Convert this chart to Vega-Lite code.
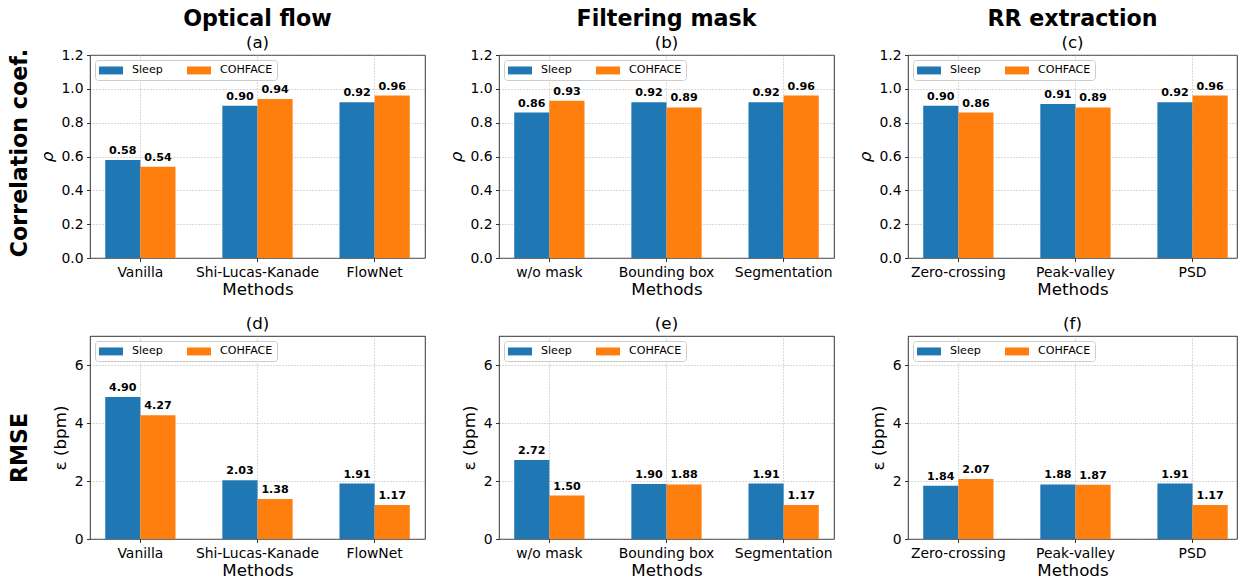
{
  "$schema": "https://vega.github.io/schema/vega-lite/v6.json",
  "padding": {"left": 9, "top": 7, "right": 0, "bottom": 0},
  "background": "white",
  "datasets": {
    "d": [
      {"panel": "a", "method": "Vanilla", "dataset": "Sleep", "value": 0.58},
      {"panel": "a", "method": "Vanilla", "dataset": "COHFACE", "value": 0.54},
      {"panel": "a", "method": "Shi-Lucas-Kanade", "dataset": "Sleep", "value": 0.90},
      {"panel": "a", "method": "Shi-Lucas-Kanade", "dataset": "COHFACE", "value": 0.94},
      {"panel": "a", "method": "FlowNet", "dataset": "Sleep", "value": 0.92},
      {"panel": "a", "method": "FlowNet", "dataset": "COHFACE", "value": 0.96},
      {"panel": "b", "method": "w/o mask", "dataset": "Sleep", "value": 0.86},
      {"panel": "b", "method": "w/o mask", "dataset": "COHFACE", "value": 0.93},
      {"panel": "b", "method": "Bounding box", "dataset": "Sleep", "value": 0.92},
      {"panel": "b", "method": "Bounding box", "dataset": "COHFACE", "value": 0.89},
      {"panel": "b", "method": "Segmentation", "dataset": "Sleep", "value": 0.92},
      {"panel": "b", "method": "Segmentation", "dataset": "COHFACE", "value": 0.96},
      {"panel": "c", "method": "Zero-crossing", "dataset": "Sleep", "value": 0.90},
      {"panel": "c", "method": "Zero-crossing", "dataset": "COHFACE", "value": 0.86},
      {"panel": "c", "method": "Peak-valley", "dataset": "Sleep", "value": 0.91},
      {"panel": "c", "method": "Peak-valley", "dataset": "COHFACE", "value": 0.89},
      {"panel": "c", "method": "PSD", "dataset": "Sleep", "value": 0.92},
      {"panel": "c", "method": "PSD", "dataset": "COHFACE", "value": 0.96},
      {"panel": "d", "method": "Vanilla", "dataset": "Sleep", "value": 4.90},
      {"panel": "d", "method": "Vanilla", "dataset": "COHFACE", "value": 4.27},
      {"panel": "d", "method": "Shi-Lucas-Kanade", "dataset": "Sleep", "value": 2.03},
      {"panel": "d", "method": "Shi-Lucas-Kanade", "dataset": "COHFACE", "value": 1.38},
      {"panel": "d", "method": "FlowNet", "dataset": "Sleep", "value": 1.91},
      {"panel": "d", "method": "FlowNet", "dataset": "COHFACE", "value": 1.17},
      {"panel": "e", "method": "w/o mask", "dataset": "Sleep", "value": 2.72},
      {"panel": "e", "method": "w/o mask", "dataset": "COHFACE", "value": 1.50},
      {"panel": "e", "method": "Bounding box", "dataset": "Sleep", "value": 1.90},
      {"panel": "e", "method": "Bounding box", "dataset": "COHFACE", "value": 1.88},
      {"panel": "e", "method": "Segmentation", "dataset": "Sleep", "value": 1.91},
      {"panel": "e", "method": "Segmentation", "dataset": "COHFACE", "value": 1.17},
      {"panel": "f", "method": "Zero-crossing", "dataset": "Sleep", "value": 1.84},
      {"panel": "f", "method": "Zero-crossing", "dataset": "COHFACE", "value": 2.07},
      {"panel": "f", "method": "Peak-valley", "dataset": "Sleep", "value": 1.88},
      {"panel": "f", "method": "Peak-valley", "dataset": "COHFACE", "value": 1.87},
      {"panel": "f", "method": "PSD", "dataset": "Sleep", "value": 1.91},
      {"panel": "f", "method": "PSD", "dataset": "COHFACE", "value": 1.17}
    ]
  },
  "vconcat": [
    {
      "title": {"text": "Correlation coef.", "orient": "left", "anchor": "middle", "fontSize": 22.2, "fontWeight": "bold", "color": "#000", "offset": 7},
      "spacing": 21,
      "hconcat": [
        {
          "width": 335, "height": 203,
          "data": {"name": "d"},
          "transform": [{"filter": "datum.panel === 'a'"}],
          "title": {"text": "Optical flow", "subtitle": "(a)", "fontSize": 22.2, "fontWeight": "bold", "color": "#000", "subtitleFontSize": 16.7, "subtitleColor": "#000", "subtitlePadding": 5.5, "offset": -4},
          "encoding": {
            "x": {"field": "method", "type": "nominal", "sort": null, "scale": {"paddingInner": 0.4, "paddingOuter": 0.13}, "axis": {"title": "Methods"}},
            "xOffset": {"field": "dataset", "type": "nominal", "sort": ["Sleep", "COHFACE"], "scale": {"paddingInner": 0, "paddingOuter": 0}},
            "y": {"field": "value", "type": "quantitative", "scale": {"domain": [0, 1.2], "nice": false}, "axis": {"title": "ρ", "titleFontStyle": "italic", "values": [0, 0.2, 0.4, 0.6, 0.8, 1.0, 1.2], "format": ".1f", "minExtent": 29, "maxExtent": 29}}
          },
          "layer": [
            {"mark": {"type": "bar"}, "encoding": {"color": {"field": "dataset", "type": "nominal", "scale": {"domain": ["Sleep", "COHFACE"], "range": ["#1f77b4", "#ff7f0e"]}, "legend": {"title": null}}}},
            {"mark": {"type": "text", "baseline": "alphabetic", "dy": -6, "fontWeight": "bold", "fontSize": 11.1, "color": "#000"}, "encoding": {"text": {"field": "value", "type": "quantitative", "format": ".2f"}}}
          ]
        },
        {
          "width": 335, "height": 203,
          "data": {"name": "d"},
          "transform": [{"filter": "datum.panel === 'b'"}],
          "title": {"text": "Filtering mask", "subtitle": "(b)", "fontSize": 22.2, "fontWeight": "bold", "color": "#000", "subtitleFontSize": 16.7, "subtitleColor": "#000", "subtitlePadding": 5.5, "offset": -4},
          "encoding": {
            "x": {"field": "method", "type": "nominal", "sort": null, "scale": {"paddingInner": 0.4, "paddingOuter": 0.13}, "axis": {"title": "Methods"}},
            "xOffset": {"field": "dataset", "type": "nominal", "sort": ["Sleep", "COHFACE"], "scale": {"paddingInner": 0, "paddingOuter": 0}},
            "y": {"field": "value", "type": "quantitative", "scale": {"domain": [0, 1.2], "nice": false}, "axis": {"title": "ρ", "titleFontStyle": "italic", "values": [0, 0.2, 0.4, 0.6, 0.8, 1.0, 1.2], "format": ".1f", "minExtent": 29, "maxExtent": 29}}
          },
          "layer": [
            {"mark": {"type": "bar"}, "encoding": {"color": {"field": "dataset", "type": "nominal", "scale": {"domain": ["Sleep", "COHFACE"], "range": ["#1f77b4", "#ff7f0e"]}, "legend": {"title": null}}}},
            {"mark": {"type": "text", "baseline": "alphabetic", "dy": -6, "fontWeight": "bold", "fontSize": 11.1, "color": "#000"}, "encoding": {"text": {"field": "value", "type": "quantitative", "format": ".2f"}}}
          ]
        },
        {
          "width": 329, "height": 203,
          "data": {"name": "d"},
          "transform": [{"filter": "datum.panel === 'c'"}],
          "title": {"text": "RR extraction", "subtitle": "(c)", "fontSize": 22.2, "fontWeight": "bold", "color": "#000", "subtitleFontSize": 16.7, "subtitleColor": "#000", "subtitlePadding": 5.5, "offset": -4},
          "encoding": {
            "x": {"field": "method", "type": "nominal", "sort": null, "scale": {"paddingInner": 0.4, "paddingOuter": 0.1048, "align": 0.62}, "axis": {"title": "Methods"}},
            "xOffset": {"field": "dataset", "type": "nominal", "sort": ["Sleep", "COHFACE"], "scale": {"paddingInner": 0, "paddingOuter": 0}},
            "y": {"field": "value", "type": "quantitative", "scale": {"domain": [0, 1.2], "nice": false}, "axis": {"title": "ρ", "titleFontStyle": "italic", "values": [0, 0.2, 0.4, 0.6, 0.8, 1.0, 1.2], "format": ".1f", "minExtent": 29, "maxExtent": 29}}
          },
          "layer": [
            {"mark": {"type": "bar"}, "encoding": {"color": {"field": "dataset", "type": "nominal", "scale": {"domain": ["Sleep", "COHFACE"], "range": ["#1f77b4", "#ff7f0e"]}, "legend": {"title": null}}}},
            {"mark": {"type": "text", "baseline": "alphabetic", "dy": -6, "fontWeight": "bold", "fontSize": 11.1, "color": "#000"}, "encoding": {"text": {"field": "value", "type": "quantitative", "format": ".2f"}}}
          ]
        }
      ],
      "resolve": {"scale": {"x": "independent", "y": "independent"}, "legend": {"color": "independent"}}
    },
    {
      "title": {"text": "RMSE", "orient": "left", "anchor": "middle", "fontSize": 22.2, "fontWeight": "bold", "color": "#000", "offset": 20},
      "spacing": 34,
      "hconcat": [
        {
          "width": 335, "height": 203,
          "data": {"name": "d"},
          "transform": [{"filter": "datum.panel === 'd'"}],
          "title": {"text": "(d)", "fontSize": 16.7, "fontWeight": "normal", "color": "#000", "offset": 3},
          "encoding": {
            "x": {"field": "method", "type": "nominal", "sort": null, "scale": {"paddingInner": 0.4, "paddingOuter": 0.13}, "axis": {"title": "Methods"}},
            "xOffset": {"field": "dataset", "type": "nominal", "sort": ["Sleep", "COHFACE"], "scale": {"paddingInner": 0, "paddingOuter": 0}},
            "y": {"field": "value", "type": "quantitative", "scale": {"domain": [0, 7], "nice": false}, "axis": {"title": "ε (bpm)", "values": [0, 2, 4, 6], "minExtent": 16, "maxExtent": 16}}
          },
          "layer": [
            {"mark": {"type": "bar"}, "encoding": {"color": {"field": "dataset", "type": "nominal", "scale": {"domain": ["Sleep", "COHFACE"], "range": ["#1f77b4", "#ff7f0e"]}, "legend": {"title": null}}}},
            {"mark": {"type": "text", "baseline": "alphabetic", "dy": -6, "fontWeight": "bold", "fontSize": 11.1, "color": "#000"}, "encoding": {"text": {"field": "value", "type": "quantitative", "format": ".2f"}}}
          ]
        },
        {
          "width": 335, "height": 203,
          "data": {"name": "d"},
          "transform": [{"filter": "datum.panel === 'e'"}],
          "title": {"text": "(e)", "fontSize": 16.7, "fontWeight": "normal", "color": "#000", "offset": 3},
          "encoding": {
            "x": {"field": "method", "type": "nominal", "sort": null, "scale": {"paddingInner": 0.4, "paddingOuter": 0.13}, "axis": {"title": "Methods"}},
            "xOffset": {"field": "dataset", "type": "nominal", "sort": ["Sleep", "COHFACE"], "scale": {"paddingInner": 0, "paddingOuter": 0}},
            "y": {"field": "value", "type": "quantitative", "scale": {"domain": [0, 7], "nice": false}, "axis": {"title": "ε (bpm)", "values": [0, 2, 4, 6], "minExtent": 16, "maxExtent": 16}}
          },
          "layer": [
            {"mark": {"type": "bar"}, "encoding": {"color": {"field": "dataset", "type": "nominal", "scale": {"domain": ["Sleep", "COHFACE"], "range": ["#1f77b4", "#ff7f0e"]}, "legend": {"title": null}}}},
            {"mark": {"type": "text", "baseline": "alphabetic", "dy": -6, "fontWeight": "bold", "fontSize": 11.1, "color": "#000"}, "encoding": {"text": {"field": "value", "type": "quantitative", "format": ".2f"}}}
          ]
        },
        {
          "width": 329, "height": 203,
          "data": {"name": "d"},
          "transform": [{"filter": "datum.panel === 'f'"}],
          "title": {"text": "(f)", "fontSize": 16.7, "fontWeight": "normal", "color": "#000", "offset": 3},
          "encoding": {
            "x": {"field": "method", "type": "nominal", "sort": null, "scale": {"paddingInner": 0.4, "paddingOuter": 0.1048, "align": 0.62}, "axis": {"title": "Methods"}},
            "xOffset": {"field": "dataset", "type": "nominal", "sort": ["Sleep", "COHFACE"], "scale": {"paddingInner": 0, "paddingOuter": 0}},
            "y": {"field": "value", "type": "quantitative", "scale": {"domain": [0, 7], "nice": false}, "axis": {"title": "ε (bpm)", "values": [0, 2, 4, 6], "minExtent": 16, "maxExtent": 16}}
          },
          "layer": [
            {"mark": {"type": "bar"}, "encoding": {"color": {"field": "dataset", "type": "nominal", "scale": {"domain": ["Sleep", "COHFACE"], "range": ["#1f77b4", "#ff7f0e"]}, "legend": {"title": null}}}},
            {"mark": {"type": "text", "baseline": "alphabetic", "dy": -6, "fontWeight": "bold", "fontSize": 11.1, "color": "#000"}, "encoding": {"text": {"field": "value", "type": "quantitative", "format": ".2f"}}}
          ]
        }
      ],
      "resolve": {"scale": {"x": "independent", "y": "independent"}, "legend": {"color": "independent"}}
    }
  ],
  "spacing": 16,
  "resolve": {"scale": {"x": "independent", "y": "independent"}, "legend": {"color": "independent"}},
  "config": {
    "font": "DejaVu Sans",
    "view": {"stroke": "#000", "strokeWidth": 0.8},
    "axis": {"labelFontSize": 13.9, "labelColor": "#000", "titleFontSize": 16.7, "titleFontWeight": "normal", "titleColor": "#000", "tickColor": "#000", "tickSize": 3.5, "tickWidth": 0.8, "labelPadding": 3.5, "domain": false, "grid": true, "gridColor": "#a0a0a0", "gridDash": [1, 2], "gridWidth": 0.8},
    "axisX": {"labelAngle": 0, "titlePadding": 3, "bandPosition": 0.5},
    "axisY": {"titlePadding": 5},
    "legend": {"orient": "top-left", "offset": 5, "direction": "horizontal", "columns": 2, "symbolType": "M-1,-0.66H3V0.66H-1Z", "symbolSize": 144, "symbolStrokeWidth": 0, "labelFontSize": 11.1, "labelColor": "#000", "labelOffset": 21, "columnPadding": 24, "padding": 4, "fillColor": "white", "strokeColor": "#cccccc", "cornerRadius": 3},
    "title": {"color": "#000", "subtitleFontSize": 16.7, "subtitleColor": "#000"}
  }
}
